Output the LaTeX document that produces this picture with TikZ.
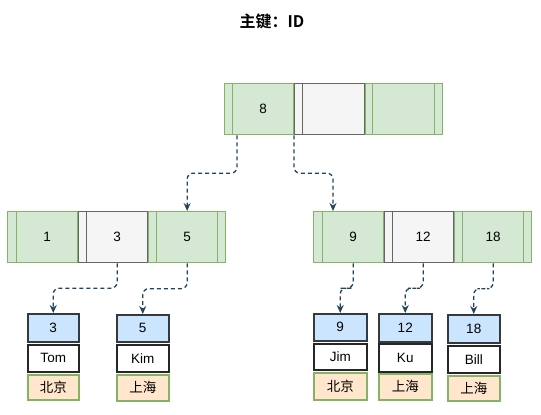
\documentclass[tikz,border=0pt]{standalone}
\usepackage{fontspec}
\setmainfont{Liberation Sans}
\newfontfamily\cjk{Noto Sans CJK SC}
\newfontfamily\cjkb{Noto Sans CJK SC Bold}
\usetikzlibrary{arrows.meta,calc}
\definecolor{gfill}{HTML}{D5E8D4}
\definecolor{gline}{HTML}{82B366}
\definecolor{hfill}{HTML}{F5F5F5}
\definecolor{hline}{HTML}{666666}
\definecolor{bfill}{HTML}{CCE5FF}
\definecolor{bline}{HTML}{36393D}
\definecolor{ofill}{HTML}{FFE6CC}
\definecolor{cline}{HTML}{23445D}
\tikzset{
  cell/.style={rectangle, inner sep=0pt, anchor=north west, font=\fontsize{13.5}{15}\selectfont, text=black},
  gcell/.style={cell, fill=gfill, draw=gline, line width=1.3pt},
  hcell/.style={cell, fill=hfill, draw=hline, line width=1.3pt},
  bcell/.style={cell, fill=bfill, draw=bline, line width=1.5pt},
  wcell/.style={cell, fill=white, draw=black!85, line width=1.5pt},
  ocell/.style={cell, fill=ofill, draw=gline, line width=1.5pt, font=\cjk\fontsize{13.5}{15}\selectfont},
  conn/.style={draw=cline, line width=1.3pt, dash pattern=on 4pt off 3pt, rounded corners=6pt, -{Stealth[length=8pt,width=7pt]}},
}
% \blk{name}{style}{x1}{y1}{x2}{y2}{text}
\newcommand\blk[7]{\node[#2, minimum width=#5pt-#3pt, minimum height=#6pt-#4pt] (#1) at (#3,#4) {#7};}
\begin{document}
\begin{tikzpicture}[x=1pt,y=-1pt]
\useasboundingbox (0,0) rectangle (541,415);
\node[font=\cjkb\fontsize{16}{18}\selectfont] (title) at (272,21) {主键：ID};
% root
\blk{r1s}{gcell}{224}{83}{232}{134}{}
\blk{r1}{gcell}{232}{83}{293}{134}{8}
\blk{r2s}{hcell}{294}{83}{302}{134}{}
\blk{r2}{hcell}{302}{83}{364}{134}{}
\blk{r3s}{gcell}{365}{83}{372}{134}{}
\blk{r3}{gcell}{372}{83}{434}{134}{}
\blk{r3t}{gcell}{434}{83}{442}{134}{}
% left level 2
\blk{a1s}{gcell}{7}{211}{16}{262}{}
\blk{a1}{gcell}{16}{211}{77}{262}{1}
\blk{a2s}{hcell}{78}{211}{86}{262}{}
\blk{a2}{hcell}{86}{211}{147}{262}{3}
\blk{a3s}{gcell}{148}{211}{156}{262}{}
\blk{a3}{gcell}{156}{211}{217}{262}{5}
\blk{a3t}{gcell}{217}{211}{225}{262}{}
% right level 2
\blk{b1s}{gcell}{313}{211}{322}{262}{}
\blk{b1}{gcell}{322}{211}{383}{262}{9}
\blk{b2s}{hcell}{384}{211}{392}{262}{}
\blk{b2}{hcell}{392}{211}{453}{262}{12}
\blk{b3s}{gcell}{454}{211}{462}{262}{}
\blk{b3}{gcell}{462}{211}{523}{262}{18}
\blk{b3t}{gcell}{523}{211}{531}{262}{}
% leaves
\blk{l1}{bcell}{27}{313}{78}{341}{3}
\blk{l1n}{wcell}{27}{344}{78}{371}{Tom}
\blk{l1c}{ocell}{27}{374}{78}{399}{北京}
\blk{l2}{bcell}{116}{314}{168}{341}{5}
\blk{l2n}{wcell}{116}{344}{168}{371}{Kim}
\blk{l2c}{ocell}{116}{374}{168}{400}{上海}
\blk{m1}{bcell}{313}{313}{366}{340}{9}
\blk{m1n}{wcell}{313}{343}{366}{369}{Jim}
\blk{m1c}{ocell}{313}{372}{366}{399}{北京}
\blk{m2}{bcell}{378}{313}{431}{341}{12}
\blk{m2n}{wcell}{378}{343}{431}{371}{Ku}
\blk{m2c}{ocell}{378}{373}{431}{399}{上海}
\blk{m3}{bcell}{447}{314}{499}{342}{18}
\blk{m3n}{wcell}{447}{345}{499}{372}{Bill}
\blk{m3c}{ocell}{447}{375}{499}{400}{上海}
% connectors
\coordinate (c1) at ([xshift=5pt]r1.south west);
\coordinate (c2) at (r2s.south west);
\coordinate (c3) at ([xshift=11pt]b1.north west);
\draw[conn] (c1) |- ($(c1)!.5!(a3.north)$) -| (a3.north);
\draw[conn] (c2) |- ($(c2)!.5!(c3)$) -| (c3);
\draw[conn] (a2.south) |- ($(a2.south)!.5!(l1.north)$) -| (l1.north);
\draw[conn] (a3.south) |- ($(a3.south)!.5!(l2.north)$) -| (l2.north);
\draw[conn] (b1.south) |- ($(b1.south)!.5!(m1.north)$) -| (m1.north);
\draw[conn] (b2.south) |- ($(b2.south)!.5!(m2.north)$) -| (m2.north);
\draw[conn] (b3.south) |- ($(b3.south)!.5!(m3.north)$) -| (m3.north);
\end{tikzpicture}
\end{document}
